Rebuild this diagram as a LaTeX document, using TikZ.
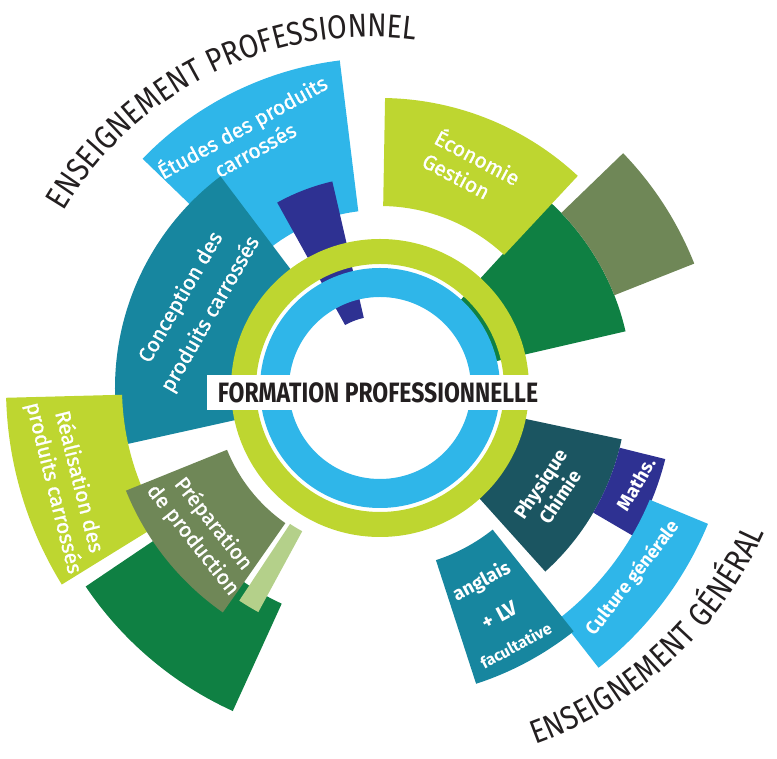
\documentclass[tikz,border=0pt]{standalone}
\usepackage{fontspec}
\setmainfont{Fira Sans}
\newfontfamily\headfont[FakeStretch=0.82]{Fira Sans}
\newfontfamily\arcfont[FakeStretch=0.86, LetterSpace=2]{Fira Sans}
\newfontfamily\labelfont[FakeBold=1.2]{Fira Sans}
\usetikzlibrary{decorations.text}
\definecolor{fplime}{HTML}{BED630}
\definecolor{fpcyan}{HTML}{2FB6E9}
\definecolor{fpteal}{HTML}{17869F}
\definecolor{fpdark}{HTML}{1B5561}
\definecolor{fpindigo}{HTML}{2E3192}
\definecolor{fpgreen}{HTML}{0F8043}
\definecolor{fpolive}{HTML}{6F8757}
\definecolor{fppale}{HTML}{B4D08A}
\definecolor{fptext}{HTML}{231F20}
\tikzstyle{seglabel} = [text=white, align=center, inner sep=0pt]
\tikzstyle{medium} = [font=\labelfont\fontsize{21}{26}\selectfont]
\tikzstyle{heavy} = [font=\bfseries\fontsize{19}{23}\selectfont]
\tikzstyle{arctitle} = [decorate, decoration={text along path, text align=center, text color=fptext}]

\begin{document}
\begin{tikzpicture}[x=1pt, y=1pt]
    \useasboundingbox (-380, -371) rectangle (397, 388);

    % All sectors, the ones underneath first.
    \foreach \col/\a/\b/\ri/\ro in {
        fpcyan/97/136/178/330, fpteal/127/192.5/140/265, fpindigo/103/119/72/212,
        fpgreen/13/47.5/118/252, fplime/47/89/182/290, fpolive/21.6/44/252/338,
        fpdark/-48/-12/140/247, fpindigo/-30.3/-14/247/294, fpcyan/-52/-22.5/292/355,
        fpteal/-72/-51.5/181/311, fplime/181.5/211.7/258/374, fpgreen/214/245.5/237/355,
        fpolive/202/235/165/274, fppale/236.5/241.5/163/255} {
        \fill [\col] (\a:\ri) arc [start angle=\a, end angle=\b, radius=\ri]
            -- (\b:\ro) arc [start angle=\b, end angle=\a, radius=\ro] -- cycle;
    }

    % Rings.
    \fill [fplime, even odd rule] (0, 0) circle [radius=149] circle [radius=124];
    \fill [fpcyan, even odd rule] (0, 0) circle [radius=120] circle [radius=91];

    % Sector labels.
    \node (etudes) [seglabel, medium, rotate=29] at (-132, 251) {Études des produits\\carrossés};
    \node (conception) [seglabel, medium, rotate=60] at (-184, 82) {Conception des\\[8pt]produits carrossés};
    \node (economie) [seglabel, medium, align=left, anchor=west, rotate=-28] at (51, 242) {Économie\\Gestion};
    \node (realisation) [seglabel, medium, rotate=-76] at (-314, -97) {Réalisation des\\produits carrossés};
    \node (preparation) [seglabel, medium, rotate=-51.5] at (-177, -144) {Préparation\\de production};
    \node (physique) [seglabel, heavy, rotate=56] at (170, -102) {Physique\\Chimie};
    \node (maths) [seglabel, heavy, rotate=60] at (256, -96) {Maths.};
    \node (culture) [seglabel, heavy, font=\bfseries\fontsize{18.5}{22}\selectfont, rotate=52] at (253, -190) {Culture générale};
    \node (anglais) [seglabel, heavy, rotate=28] at (118, -224)
        {anglais\\[17pt]{\fontsize{21}{24}\selectfont + LV}\\[10pt]{\fontsize{16}{19}\selectfont facultative}};

    % Titles.
    \path [arctitle, shift={(-10, -5)}, decoration={text={|\arcfont\fontsize{33}{33}\selectfont|ENSEIGNEMENT PROFESSIONNEL}}]
        (150:356) arc [start angle=150, end angle=82, radius=356];
    \path [arctitle, shift={(20, 20)}, decoration={text={|\arcfont\fontsize{33}{33}\selectfont|ENSEIGNEMENT GÉNÉRAL}}]
        (-70:400) arc [start angle=-70, end angle=-24.5, radius=400];

    \node (formation) [fill=white, minimum width=342pt, minimum height=35pt, inner sep=0pt, text=fptext,
        font=\headfont\bfseries\fontsize{28}{28}\selectfont] at (-2, -4.5) {FORMATION PROFESSIONNELLE};
\end{tikzpicture}
\end{document}
